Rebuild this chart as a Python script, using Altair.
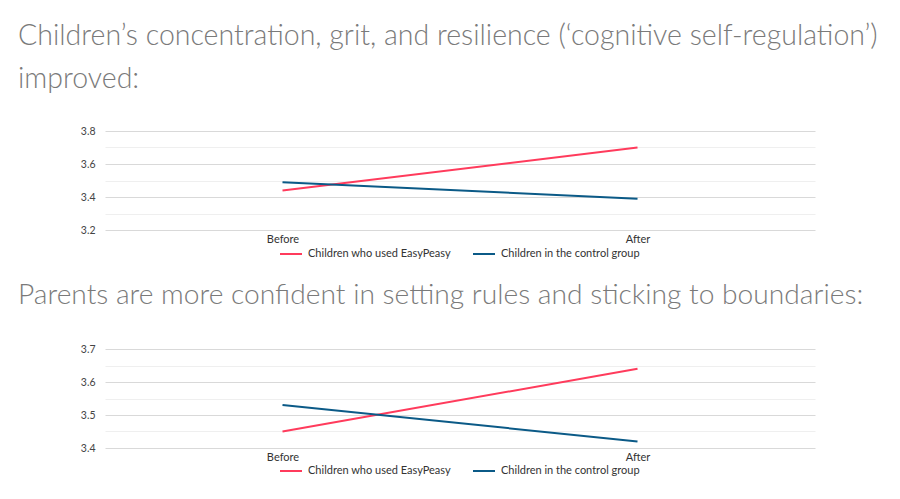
import altair as alt
import pandas as pd

times = ["Before", "After"]
groups = ["Children who used EasyPeasy", "Children in the control group"]
colors = ["#ff3b5c", "#0b5a87"]

title1 = ["Children\u2019s concentration, grit, and resilience (\u2018cognitive self-regulation\u2019)", "improved:"]
easy1 = [3.44, 3.70]
ctrl1 = [3.49, 3.39]
ticks1 = [3.2, 3.3, 3.4, 3.5, 3.6, 3.7, 3.8]

title2 = "Parents are more confident in setting rules and sticking to boundaries:"
easy2 = [3.45, 3.64]
ctrl2 = [3.53, 3.42]
ticks2 = [3.40, 3.45, 3.50, 3.55, 3.60, 3.65, 3.70]


def frame(easy, ctrl):
    rows = []
    for t, e, c in zip(times, easy, ctrl):
        rows.append({"time": t, "group": groups[0], "value": e})
        rows.append({"time": t, "group": groups[1], "value": c})
    return pd.DataFrame(rows)


def panel(df, title, ticks, major_test, legend_y, font_size, offset):
    return alt.Chart(df).mark_line(strokeWidth=2).encode(
        x=alt.X("time:N", sort=times, title=None,
                scale=alt.Scale(type="point", padding=0.5),
                axis=alt.Axis(labelAngle=0, ticks=False, domain=False, grid=False,
                              labelPadding=3, labelFontSize=11, labelColor="#333333",
                              labelFont="Lato")),
        y=alt.Y("value:Q", title=None,
                scale=alt.Scale(domain=[ticks[0], ticks[-1]], zero=False, nice=False),
                axis=alt.Axis(values=ticks, ticks=False, domain=False, format=".1f",
                              labelExpr=f"{major_test} ? datum.label : ''",
                              labelPadding=10, labelFontSize=10.5, labelColor="#444444",
                              labelFont="Lato", minExtent=87,
                              gridColor={"condition": {"test": major_test, "value": "#d9d9d9"},
                                         "value": "#efefef"},
                              gridWidth=1)),
        color=alt.Color("group:N", sort=groups,
                        scale=alt.Scale(domain=groups, range=colors),
                        legend=alt.Legend(title=None, orient="none", legendX=174, legendY=legend_y,
                                          direction="horizontal", columns=2,
                                          symbolType="stroke", symbolSize=484, symbolStrokeWidth=2,
                                          labelFontSize=11, labelColor="#333333", labelFont="Lato",
                                          labelOffset=5, columnPadding=18)),
    ).properties(
        width=710, height=99,
        title=alt.TitleParams(title, anchor="start", frame="bounds", fontSize=font_size,
                              font="Lato", fontWeight=300, color="#7a7a7a",
                              lineHeight=43, offset=offset),
    )


c1 = panel(frame(easy1, ctrl1), title1, ticks1, "round(datum.value*10) % 2 == 0", 111, 28.5, 33)
c2 = panel(frame(easy2, ctrl2), title2, ticks2, "round(datum.value*20) % 2 == 0", 110, 28.2, 34)

chart = alt.vconcat(c1, c2, spacing=21).resolve_scale(color="independent").properties(
    padding={"left": 10, "top": 13, "right": 10, "bottom": 5}
).configure_view(stroke=None)

chart.save("out.html", embed_options={"renderer": "svg", "actions": False})
